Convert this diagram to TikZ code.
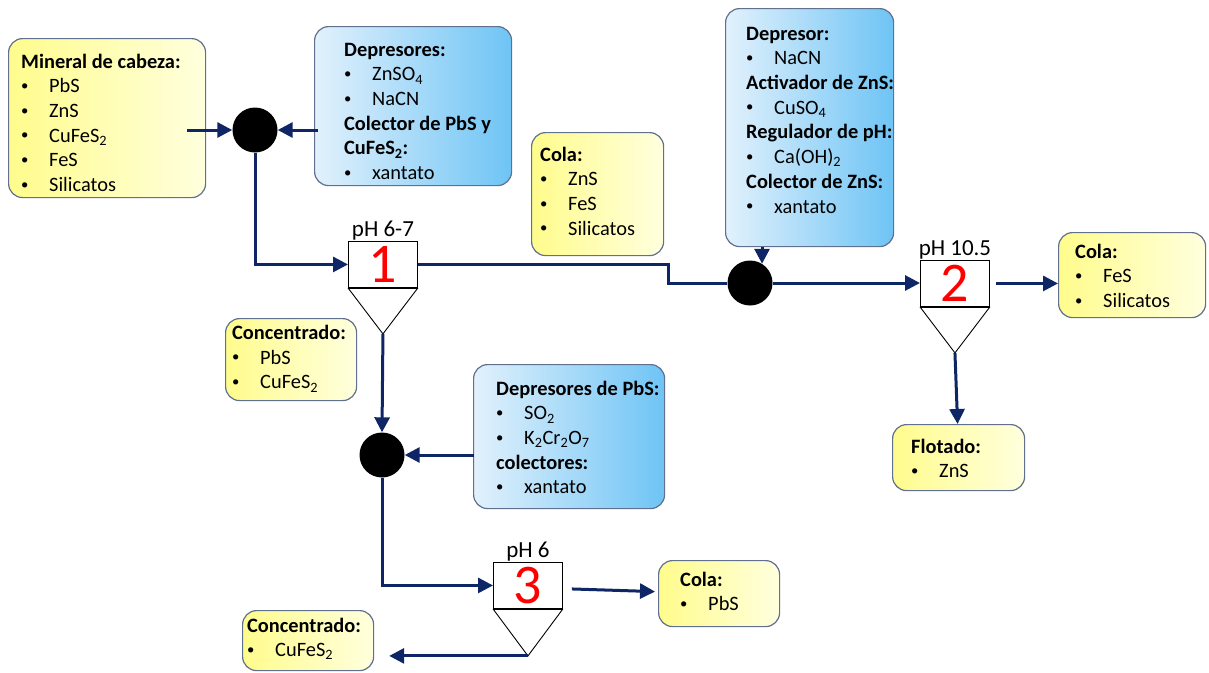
\documentclass[tikz,border=0pt]{standalone}
\usepackage{fontspec}
\setmainfont{Carlito}
\usetikzlibrary{arrows.meta,calc}

\definecolor{flowc}{RGB}{14,38,102}
\definecolor{edgec}{RGB}{96,112,142}
\definecolor{yel1}{RGB}{255,252,140}
\definecolor{yel2}{RGB}{255,255,222}
\definecolor{blu1}{RGB}{226,241,252}
\definecolor{blu2}{RGB}{110,196,245}

\newcommand\hd[1]{\textbf{#1}}
\newcommand\itm[1]{\makebox[28pt][l]{\raisebox{0.12em}{\scalebox{0.72}{•}}}#1}

\tikzset{
  flow/.style={draw=flowc, line width=3pt, -{Triangle[length=15pt,width=15pt]}},
  infobox/.style={draw=edgec, line width=1.2pt, rounded corners=14pt, inner sep=0pt, anchor=north west},
  ybox/.style={infobox, left color=yel1, right color=yel2},
  bbox/.style={infobox, left color=blu1, right color=blu2},
  txt/.style={inner sep=0pt, anchor=north west, align=left, font=\fontsize{20.4}{24.7}\selectfont},
  cellbox/.style={draw=black, line width=0.9pt, fill=white, inner sep=0pt, anchor=north west,
    minimum width=69pt, minimum height=46pt, text=red, font=\fontsize{56}{56}\selectfont},
  cone/.style={draw=black, line width=0.9pt},
  phlbl/.style={anchor=south, inner sep=0pt, font=\fontsize{23}{23}\selectfont},
  blob/.style={circle, fill=black, minimum size=45pt, inner sep=0pt},
}

\begin{document}
\begin{tikzpicture}[x=1pt,y=-1pt]
\useasboundingbox (0,0) rectangle (1209,672);

% ---------- information boxes ----------
\node[ybox, minimum width=197pt, minimum height=159pt] (A) at (8,38) {};
\node[txt] (tA) at (21,50.7) {\strut\hd{Mineral de cabeza:}\\\itm{PbS}\\\itm{ZnS}\\\itm{CuFeS\textsubscript{2}}\\\itm{FeS}\\\itm{Silicatos}};

\node[bbox, minimum width=197pt, minimum height=159pt] (B) at (314,26) {};
\node[txt] (tB) at (344,38.7) {\strut\hd{Depresores:}\\\itm{ZnSO\textsubscript{4}}\\\itm{NaCN}\\\hd{Colector de PbS y}\\\hd{CuFeS\textsubscript{2}:}\\\itm{xantato}};

\node[ybox, minimum width=132pt, minimum height=123pt] (C) at (531,132) {};
\node[txt] (tC) at (540,143.7) {\strut\hd{Cola:}\\\itm{ZnS}\\\itm{FeS}\\\itm{Silicatos}};

\node[bbox, minimum width=168pt, minimum height=238pt] (D) at (725,8) {};
\node[txt] (tD) at (746,22.7) {\strut\hd{Depresor:}\\\itm{NaCN}\\\hd{Activador de ZnS:}\\\itm{CuSO\textsubscript{4}}\\\hd{Regulador de pH:}\\\itm{Ca(OH)\textsubscript{2}}\\\hd{Colector de ZnS:}\\\itm{xantato}};

\node[ybox, minimum width=147pt, minimum height=85pt] (E) at (1058,232) {};
\node[txt] (tE) at (1075,240.7) {\strut\hd{Cola:}\\\itm{FeS}\\\itm{Silicatos}};

\node[ybox, minimum width=132pt, minimum height=66pt] (F) at (892,424) {};
\node[txt] (tF) at (911,435.7) {\strut\hd{Flotado:}\\\itm{ZnS}};

\node[ybox, minimum width=131pt, minimum height=82pt] (G) at (225,318) {};
\node[txt] (tG) at (232,322) {\strut\hd{Concentrado:}\\\itm{PbS}\\\itm{CuFeS\textsubscript{2}}};

\node[bbox, minimum width=191pt, minimum height=144pt] (H) at (473,364) {};
\node[txt] (tH) at (496,377.7) {\strut\hd{Depresores de PbS:}\\\itm{SO\textsubscript{2}}\\\itm{K\textsubscript{2}Cr\textsubscript{2}O\textsubscript{7}}\\\hd{colectores:}\\\itm{xantato}};

\node[ybox, minimum width=121pt, minimum height=66pt] (I) at (658,560) {};
\node[txt] (tI) at (680,568.7) {\strut\hd{Cola:}\\\itm{PbS}};

\node[ybox, minimum width=131pt, minimum height=60pt] (J) at (242,610) {};
\node[txt] (tJ) at (247,614.5) {\strut\hd{Concentrado:}\\\itm{CuFeS\textsubscript{2}}};

% ---------- conditioning points ----------
\node[blob] (c1) at (255,130) {};
\node[blob] (c2) at (750,283) {};
\node[blob] (c3) at (382,455) {};

% ---------- flotation cells ----------
\node[cellbox] (k1) at (348,241) {1};
\node[cellbox] (k2) at (920,260) {2};
\node[cellbox] (k3) at (493,562) {3};
\coordinate (a1) at ($(k1.south)+(0,46)$);
\coordinate (a2) at ($(k2.south)+(0,46)$);
\coordinate (a3) at ($(k3.south)+(0,47)$);
\foreach \k/\a in {k1/a1,k2/a2,k3/a3}{
  \draw[cone] (\k.south west) -- (\a) -- (\k.south east);
  \draw[line width=2pt] (\k.south west) -- (\k.south east);
}
\node[phlbl] (p1) at ([yshift=1pt]k1.north) {pH 6-7};
\node[phlbl] (p2) at ([yshift=1pt]k2.north) {pH 10.5};
\node[phlbl] (p3) at ([yshift=1pt]k3.north) {pH 6};

% ---------- streams ----------
\draw[flow] ($(A.east |- c1)+(-19,0)$) -- (c1);
\draw[flow] ($(B.west |- c1)+(4,0)$) -- (c1);
\draw[flow] (c1.south) |- (k1.west);
\draw[draw=flowc, line width=3pt] (k1.east) -| (668,283) -- (c2);
\draw[flow] (D.south -| c2.58) -- (c2.58);
\draw[flow] (c2.east) -- (k2.west |- c2);
\draw[flow] ($(k2.east)+(6,0)$) -- (E.west |- k2.east);
\draw[flow] (a2) -- ($(F.north)+(-1,0)$);
\draw[flow] (a1) -- (c3.north);
\draw[flow] ($(H.west |- c3)+(1,0)$) -- (c3);
\draw[flow] (c3.south) |- (k3.west);
\draw[flow] ($(k3.east)+(9,3.5)$) -- ($(I.west)+(-3,-2)$);
\draw[flow] (a3) -- ($(J.east |- a3)+(15,0)$);
\end{tikzpicture}
\end{document}
